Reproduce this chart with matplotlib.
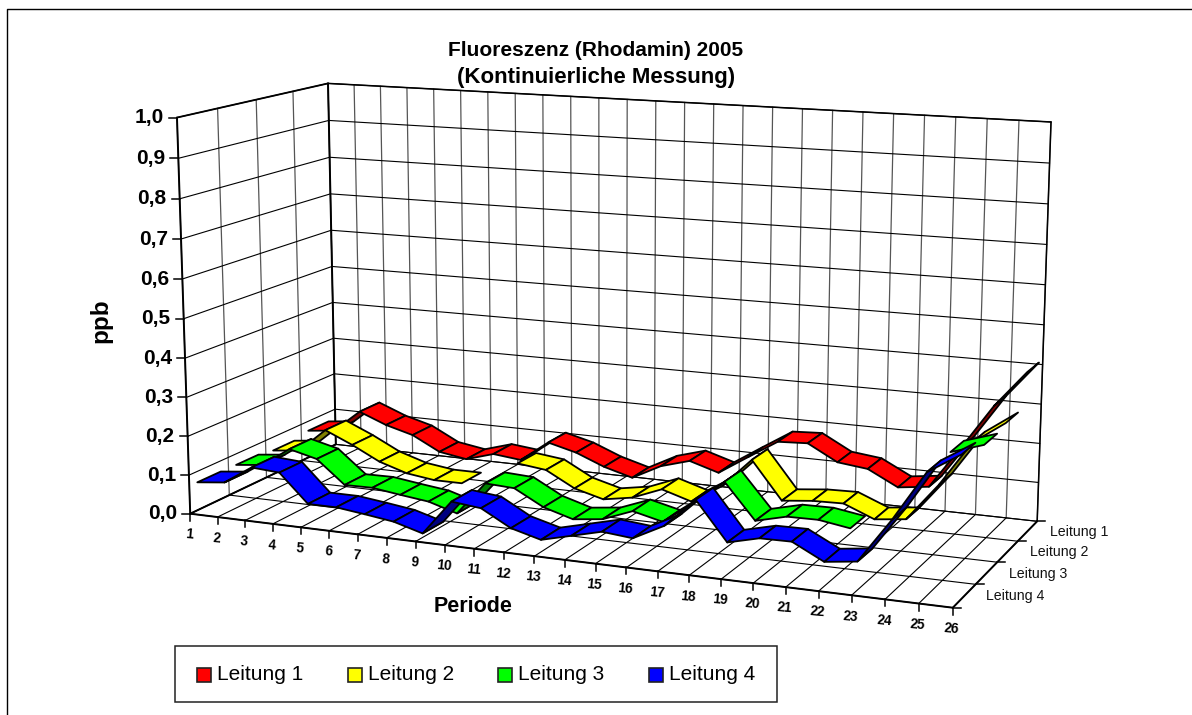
import numpy as np
import matplotlib
matplotlib.use('Agg')
import matplotlib.pyplot as plt
from matplotlib.patches import Rectangle

plt.rcParams['font.family'] = ['Liberation Sans', 'DejaVu Sans']

n = np.nan
periods = list(range(1, 27))
z_ticks = [0.0, 0.1, 0.2, 0.3, 0.4, 0.5, 0.6, 0.7, 0.8, 0.9, 1.0]
names = ['Leitung 1', 'Leitung 2', 'Leitung 3', 'Leitung 4']
colors = ['#ff0000', '#ffff00', '#00ff00', '#0000ff']

leitung1 = [0.074, 0.082, 0.142, 0.113, 0.093, 0.055, 0.043, 0.065, 0.057, 0.112, 0.093, 0.063, 0.042,
            0.081, 0.103, 0.08, 0.129, 0.177, 0.181, 0.14, 0.131, 0.092, 0.102, 0.21, 0.322, 0.413]
leitung2 = [0.064, 0.072, 0.135, 0.103, 0.066, 0.043, 0.033, 0.033, n, 0.102, 0.093, 0.053, 0.033,
            0.046, 0.076, 0.053, 0.1, 0.176, 0.081, 0.089, 0.091, 0.06, 0.069, 0.163, 0.275, 0.33]
leitung3 = [0.071, 0.079, 0.129, 0.111, 0.051, 0.052, 0.042, 0.033, 0.011, 0.097, 0.093, 0.053, 0.031,
            0.04, 0.069, 0.051, 0.106, 0.168, 0.08, 0.099, 0.1, 0.088, n, n, 0.297, 0.322]
leitung4 = [0.072, 0.08, 0.127, 0.122, 0.05, 0.05, 0.041, 0.031, 0.01, 0.099, 0.091, 0.05, 0.03,
            0.049, 0.068, 0.061, 0.1, 0.172, 0.078, 0.097, 0.098, 0.059, 0.069, 0.176, 0.296, 0.345]
series = [leitung1, leitung2, leitung3, leitung4]

# box corners (period, depth, ppb) -> where they sit in the image
corners_box = [(0, 0, 0), (1, 0, 0), (1, 1, 0), (0, 1, 0), (0, 0, 1), (0, 1, 1), (1, 1, 1)]
corners_px = [(190, 513), (953, 608), (1037, 521), (336, 445), (177, 118), (328, 83), (1051, 122)]


def fit_camera():
    rows = []
    for (u, v, z), (x, y) in zip(corners_box, corners_px):
        X = [u, v, z, 1]
        rows.append(X + [0, 0, 0, 0] + [-x * c for c in X])
        rows.append([0, 0, 0, 0] + X + [-y * c for c in X])
    return np.linalg.svd(np.array(rows, float))[2][-1].reshape(3, 4)


P = fit_camera()


def proj(u, v, z):
    h = P @ np.array([u, v, z, 1.0])
    return h[0] / h[2], h[1] / h[2]


def line3d(a, b, lw=0.8, color='black', zorder=1):
    pa, pb = proj(*a), proj(*b)
    ax.plot([pa[0], pb[0]], [pa[1], pb[1]], color=color, lw=lw, zorder=zorder, solid_capstyle='round')


def area(pts):
    x = [p[0] for p in pts]
    y = [p[1] for p in pts]
    return 0.5 * sum(x[i] * y[(i + 1) % 4] - x[(i + 1) % 4] * y[i] for i in range(4))


def darker(c):
    rgb = np.array(matplotlib.colors.to_rgb(c))
    return tuple(rgb * 0.5)


fig = plt.figure(figsize=(11.92, 7.15), dpi=100)
ax = fig.add_axes([0, 0, 1, 1])
ax.set_xlim(0, 1192)
ax.set_ylim(715, 0)
ax.axis('off')

# chart area frame, only top and left survive the crop
ax.plot([1192, 6.5, 6.5], [8.5, 8.5, 715], color='black', lw=1.0)

# walls and floor grid
us = [(p - 1) / 25 for p in periods]
vs = [i / 4 for i in range(5)]
for u in us:
    line3d((u, 0, 0), (u, 1, 0), lw=0.8)
    line3d((u, 1, 0), (u, 1, 1), lw=0.9, color='#555555')
for v in vs:
    line3d((0, v, 0), (1, v, 0), lw=0.8)
    line3d((0, v, 0), (0, v, 1), lw=0.9, color='#555555')
for z in z_ticks:
    line3d((0, 0, z), (0, 1, z), lw=0.8)
    line3d((0, 1, z), (1, 1, z), lw=0.8)

# box edges
line3d((0, 0, 0), (0, 0, 1), lw=1.4, zorder=2)
line3d((0, 1, 0), (0, 1, 1), lw=1.4, zorder=2)
line3d((1, 1, 0), (1, 1, 1), lw=1.1, zorder=2)
line3d((0, 0, 1), (0, 1, 1), lw=1.3, zorder=2)
line3d((0, 1, 1), (1, 1, 1), lw=1.1, zorder=2)
line3d((0, 0, 0), (1, 0, 0), lw=1.4, zorder=2)
line3d((1, 0, 0), (1, 1, 0), lw=1.4, zorder=2)
line3d((0, 0, 0), (0, 1, 0), lw=1.4, zorder=2)

# ticks + labels
for z in z_ticks:
    x, y = proj(0, 0, z)
    ax.plot([x - 8, x], [y, y], color='black', lw=1.1)
    ax.text(x - 13, y, f'{z:.1f}'.replace('.', ','), ha='right', va='center', fontsize=15,
            fontweight='bold')
for p, u in zip(periods, us):
    x, y = proj(u, 0, 0)
    ax.plot([x, x], [y, y + 7], color='black', lw=1.1)
    ax.text(x - 1, y + 21, str(p), ha='center', va='center', fontsize=9.8, fontweight='bold', rotation=-5)
for v in vs:
    x, y = proj(1, v, 0)
    ax.plot([x, x + 8], [y, y], color='black', lw=1.1)
for i, name in enumerate(names):
    x, y = proj(1, (3 - i + 0.5) / 4, 0)
    ax.text(x + 22, y + 0.5, name, ha='left', va='center', fontsize=10.2, color='#111111')

# ribbons, back row first
for i, (vals, col) in enumerate(zip(series, colors)):
    row = 3 - i
    v0 = (row + 0.2) / 4
    v1 = (row + 0.8) / 4
    for k in range(len(vals) - 1):
        if np.isnan(vals[k]) or np.isnan(vals[k + 1]):
            continue
        u0, u1 = us[k], us[k + 1]
        pts = [proj(u0, v0, vals[k]), proj(u1, v0, vals[k + 1]),
               proj(u1, v1, vals[k + 1]), proj(u0, v1, vals[k])]
        under = area(pts) > 0
        ax.fill([p[0] for p in pts], [p[1] for p in pts], facecolor=darker(col) if under else col,
                edgecolor='black', lw=1.3, joinstyle='round', zorder=5 + i + k * 0.01)

# titles
ax.text(596, 50, 'Fluoreszenz (Rhodamin) 2005', ha='center', va='center', fontsize=15, fontweight='bold')
ax.text(596, 78, '(Kontinuierliche Messung)', ha='center', va='center', fontsize=16, fontweight='bold')
ax.text(101, 320.5, 'ppb', ha='center', va='center', rotation=90, fontsize=17.5, fontweight='bold')
ax.text(473.5, 606, 'Periode', ha='center', va='center', fontsize=15.5, fontweight='bold')

# legend
ax.add_patch(Rectangle((175, 646), 602, 56, facecolor='white', edgecolor='#222222', lw=1.1, zorder=8))
for name, col, x in zip(names, colors, [197, 348, 498, 649]):
    ax.add_patch(Rectangle((x, 667.5), 14, 14, facecolor=col, edgecolor='#222222', lw=1.2, zorder=9))
    ax.text(x + 20, 675, name, ha='left', va='center', fontsize=15, zorder=9)

fig.savefig('out.png', dpi=100)
